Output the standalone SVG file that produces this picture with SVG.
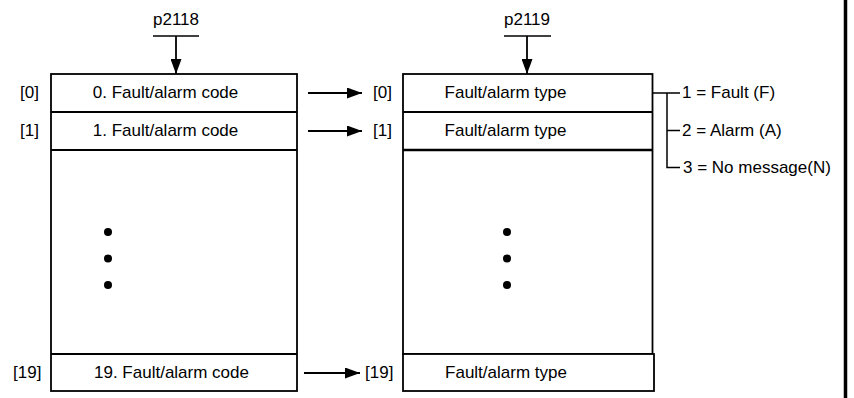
<svg xmlns="http://www.w3.org/2000/svg" width="854" height="398" viewBox="0 0 854 398">
<defs>
<marker id="ah" markerWidth="15" markerHeight="11" refX="15" refY="5.5" orient="auto" markerUnits="userSpaceOnUse">
<path d="M0,0 L15,5.5 L0,11 Z" fill="#000"/>
</marker>
<style>
text{font-family:"Liberation Sans",Arial,sans-serif;font-size:17px;fill:#000}
.c{text-anchor:middle}
.b{fill:#fff;stroke:#000;stroke-width:1.8}
.l{fill:none;stroke:#000;stroke-width:1.8}
.t{fill:none;stroke:#000;stroke-width:1.5}
</style>
</defs>
<rect width="854" height="398" fill="#fff"/>
<line x1="845.5" y1="0" x2="845.5" y2="398" stroke="#000" stroke-width="3.5"/>

<g id="p2118">
<text class="c" x="176" y="25">p2118</text>
<line class="t" x1="153" y1="36" x2="199" y2="36"/>
</g>
<g id="p2119">
<text class="c" x="527" y="25">p2119</text>
<line class="t" x1="504" y1="36" x2="551" y2="36"/>
</g>

<g id="left-array">
<rect class="b" x="51" y="74" width="246" height="317"/>
<line class="l" x1="51" y1="112" x2="297" y2="112"/>
<line class="l" x1="51" y1="150" x2="297" y2="150"/>
<line class="l" x1="51" y1="354" x2="297" y2="354"/>
<text class="c" x="165.5" y="98">0. Fault/alarm code</text>
<text class="c" x="165.5" y="136">1. Fault/alarm code</text>
<text class="c" x="171.5" y="378">19. Fault/alarm code</text>
<circle cx="108" cy="232" r="4"/>
<circle cx="108" cy="258.5" r="4"/>
<circle cx="108" cy="285" r="4"/>
<text x="20" y="98">[0]</text>
<text x="20" y="136">[1]</text>
<text x="13" y="378">[19]</text>
</g>

<g id="right-array">
<rect class="b" x="403" y="74" width="249.5" height="280"/>
<line class="l" x1="403" y1="112" x2="652.5" y2="112"/>
<line stroke="#000" stroke-width="2.3" x1="403" y1="150" x2="652.5" y2="150"/>
<rect class="b" x="403" y="354" width="251" height="37"/>
<text class="c" x="505.5" y="98">Fault/alarm type</text>
<text class="c" x="505.5" y="136">Fault/alarm type</text>
<text class="c" x="506" y="378">Fault/alarm type</text>
<circle cx="507" cy="232" r="4"/>
<circle cx="507" cy="258.5" r="4"/>
<circle cx="507" cy="285" r="4"/>
<text x="373" y="98">[0]</text>
<text x="373" y="136">[1]</text>
<text x="365" y="378">[19]</text>
</g>

<g id="legend">
<text x="682" y="98">1 = Fault (F)</text>
<text x="682" y="136">2 = Alarm (A)</text>
<text x="683" y="173">3 = No message(N)</text>
</g>

<g id="connectors">
<line class="l" x1="176" y1="36" x2="176" y2="74" marker-end="url(#ah)"/>
<line class="l" x1="527" y1="36" x2="527" y2="74" marker-end="url(#ah)"/>
<line class="l" x1="308" y1="93" x2="362" y2="93" marker-end="url(#ah)"/>
<line class="l" x1="308" y1="131" x2="362" y2="131" marker-end="url(#ah)"/>
<line class="l" x1="304" y1="373" x2="360" y2="373" marker-end="url(#ah)"/>
<path class="t" d="M652.5,93 H680 M667,93 V167.5 H680 M667,130.5 H680"/>
</g>
</svg>
